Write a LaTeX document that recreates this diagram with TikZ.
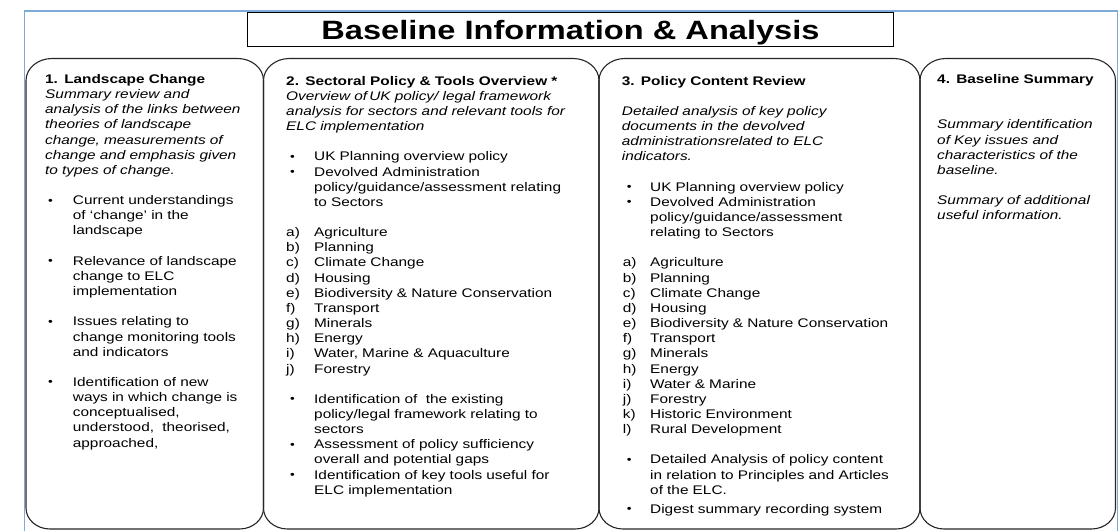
\documentclass[tikz,border=0pt]{standalone}
\usepackage{fontspec}
\setmainfont{Liberation Sans}[FakeStretch=1.23]
\definecolor{frameblue}{RGB}{125,170,215}
\newlength{\bulo}\newlength{\txto}\newlength{\leto}
\newcommand{\smallbul}{\raisebox{0.5bp}{\fontsize{11bp}{11bp}\selectfont\textbullet}}
\newcommand{\bli}[1]{\hspace*{\bulo}\makebox[\dimexpr\txto-\bulo\relax][l]{\smallbul}#1}
\newcommand{\cti}[1]{\hspace*{\txto}#1}
\newcommand{\lti}[2]{\hspace*{\leto}\makebox[\dimexpr\txto-\leto\relax][l]{#1}#2}
\newcommand{\firstline}{\rule{0pt}{11bp}}
\newcommand{\panelpath}[2]{%
  \draw[panelline] (#1,80.5) .. controls (#1,68.36) and (#1+11.65,58.5) .. (#1+26,58.5)
    -- (#2-26,58.5) .. controls (#2-11.65,58.5) and (#2,68.36) .. (#2,80.5)
    -- (#2,508) .. controls (#2,519.6) and (#2-10.75,529) .. (#2-24,529)
    -- (#1+24,529) .. controls (#1+10.75,529) and (#1,519.6) .. (#1,508) -- cycle;}
\begin{document}
\begin{tikzpicture}[x=1bp,y=-1bp,
  panelline/.style={draw=black!85,line width=1.1bp},
  txt/.style={anchor=north west,inner sep=0pt,text width=420bp,align=left,
    font=\fontsize{12.5bp}{15.15bp}\selectfont},
  titlebox/.style={draw=black,line width=1bp,minimum width=645bp,minimum height=34.5bp,
    inner sep=0pt,text depth=0pt,font=\fontsize{26.5bp}{30bp}\selectfont\bfseries}]
\useasboundingbox (0,0) rectangle (1119,531);
\fill[white] (0,0) rectangle (1119,531);
% outer light blue frame
\draw[frameblue,line width=1.2bp] (24.5,545) -- (24.5,11) -- (1117.5,11) -- (1117.5,545);
% title
\node[titlebox] (title) at (570.5,29.75) {Baseline Information \& Analysis};
% panels
\panelpath{26}{263.5}
\panelpath{263.5}{599}
\panelpath{599}{920}
\panelpath{920}{1115.5}
% panel 1
\node[txt] (p1) at (45,72.3) {\setlength{\bulo}{3bp}\setlength{\txto}{27.7bp}\firstline
\textbf{1. Landscape Change}\\
\textit{Summary review and}\\
\textit{analysis of the links between}\\
\textit{theories of landscape}\\
\textit{change, measurements of}\\
\textit{change and emphasis given}\\
\textit{to types of change.}\\[\baselineskip]
\bli{Current understandings}\\
\cti{of ‘change’ in the}\\
\cti{landscape}\\[\baselineskip]
\bli{Relevance of landscape}\\
\cti{change to ELC}\\
\cti{implementation}\\[\baselineskip]
\bli{Issues relating to}\\
\cti{change monitoring tools}\\
\cti{and indicators}\\[\baselineskip]
\bli{Identification of new}\\
\cti{ways in which change is}\\
\cti{conceptualised,}\\
\cti{understood,\ \ theorised,}\\
\cti{approached,}};
% panel 2
\node[txt] (p2) at (286,74) {\setlength{\bulo}{4bp}\setlength{\txto}{28bp}\setlength{\leto}{0bp}\firstline
\textbf{2. Sectoral Policy \& Tools Overview *}\\
\textit{Overview of\,UK policy/ legal framework}\\
\textit{analysis for sectors and relevant tools for}\\
\textit{ELC implementation}\\[\baselineskip]
\bli{UK Planning overview policy}\\
\bli{Devolved Administration}\\
\cti{policy/guidance/assessment relating}\\
\cti{to Sectors}\\[\baselineskip]
\lti{a)}{Agriculture}\\
\lti{b)}{Planning}\\
\lti{c)}{Climate Change}\\
\lti{d)}{Housing}\\
\lti{e)}{Biodiversity \& Nature Conservation}\\
\lti{f)}{Transport}\\
\lti{g)}{Minerals}\\
\lti{h)}{Energy}\\
\lti{i)}{Water, Marine \& Aquaculture}\\
\lti{j)}{Forestry}\\[\baselineskip]
\bli{Identification of\ \ the existing}\\
\cti{policy/legal framework relating to}\\
\cti{sectors}\\
\bli{Assessment of policy sufficiency}\\
\cti{overall and potential gaps}\\
\bli{Identification of key tools useful for}\\
\cti{ELC implementation}};
% panel 3
\node[txt] (p3) at (621.7,74) {\setlength{\bulo}{5bp}\setlength{\txto}{28.3bp}\setlength{\leto}{1bp}\firstline
\textbf{3. Policy Content Review}\\[\baselineskip]
\textit{Detailed analysis of key policy}\\
\textit{documents in the devolved}\\
\textit{administrationsrelated to ELC}\\
\textit{indicators.}\\[\baselineskip]
\bli{UK Planning overview policy}\\
\bli{Devolved Administration}\\
\cti{policy/guidance/assessment}\\
\cti{relating to Sectors}\\[\baselineskip]
\lti{a)}{Agriculture}\\
\lti{b)}{Planning}\\
\lti{c)}{Climate Change}\\
\lti{d)}{Housing}\\
\lti{e)}{Biodiversity \& Nature Conservation}\\
\lti{f)}{Transport}\\
\lti{g)}{Minerals}\\
\lti{h)}{Energy}\\
\lti{i)}{Water \& Marine}\\
\lti{j)}{Forestry}\\
\lti{k)}{Historic Environment}\\
\lti{l)}{Rural Development}\\[\baselineskip]
\bli{Detailed Analysis of policy content}\\
\cti{in relation to Principles and Articles}\\
\cti{of the ELC.}\\[4bp]
\bli{Digest summary recording system}};
% panel 4
\node[txt] (p4) at (937,72.3) {\firstline
\textbf{4. Baseline Summary}\\[2\baselineskip]
\textit{Summary identification}\\
\textit{of Key issues and}\\
\textit{characteristics of the}\\
\textit{baseline.}\\[\baselineskip]
\textit{Summary of additional}\\
\textit{useful information.}};
\end{tikzpicture}
\end{document}
